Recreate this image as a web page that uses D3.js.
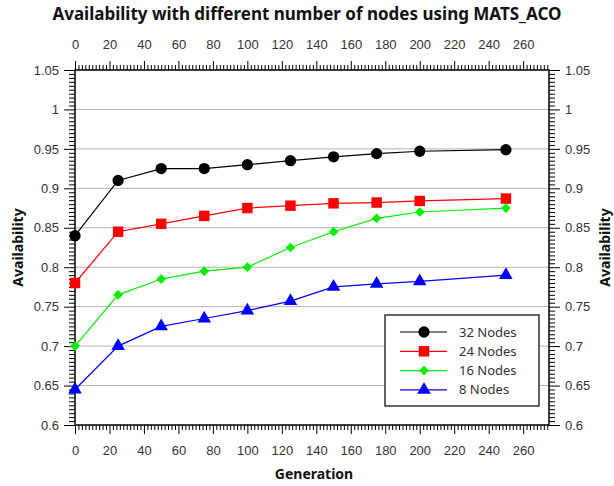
<!DOCTYPE html>
<html>
<head>
<meta charset="utf-8">
<script src="https://cdn.jsdelivr.net/npm/d3@7"></script>
<style>
  body { margin: 0; background: #fff; }
  svg { display: block; font-family: "Noto Sans", "Open Sans", sans-serif; }
</style>
</head>
<body>
<svg id="chart" width="614" height="486"></svg>
<script>
// Generations sampled
const generations = [0, 25, 50, 75, 100, 125, 150, 175, 200, 250];

// Availability per network size
const nodes32 = [0.84, 0.91, 0.925, 0.925, 0.93, 0.935, 0.94, 0.944, 0.947, 0.949];
const nodes24 = [0.78, 0.845, 0.855, 0.865, 0.875, 0.878, 0.881, 0.882, 0.884, 0.887];
const nodes16 = [0.70, 0.765, 0.785, 0.795, 0.80, 0.825, 0.845, 0.862, 0.87, 0.875];
const nodes8  = [0.645, 0.70, 0.725, 0.735, 0.745, 0.757, 0.775, 0.779, 0.782, 0.79];

const seriesNames = ["32 Nodes", "24 Nodes", "16 Nodes", "8 Nodes"];
const xTicks = [0, 20, 40, 60, 80, 100, 120, 140, 160, 180, 200, 220, 240, 260];
const yTicks = [0.6, 0.65, 0.7, 0.75, 0.8, 0.85, 0.9, 0.95, 1, 1.05];

const series = [
  { name: seriesNames[0], values: nodes32, color: "#000000", symbol: d3.symbolCircle, size: 100 },
  { name: seriesNames[1], values: nodes24, color: "#ff0000", symbol: d3.symbolSquare, size: 110 },
  { name: seriesNames[2], values: nodes16, color: "#00ee00", symbol: d3.symbolDiamond2, size: 60 },
  { name: seriesNames[3], values: nodes8,  color: "#0000ff", symbol: d3.symbolTriangle, size: 80 }
];

const svg = d3.select("#chart");
const plotL = 75, plotR = 549, plotT = 70, plotB = 425;

const x = d3.scaleLinear().domain([0, 275]).range([plotL, plotR]);
const y = d3.scaleLinear().domain([0.6, 1.05]).range([plotB, plotT]);

const tickColor = "#000";
const labelColor = "#333";

// horizontal grid
svg.append("g")
  .selectAll("line")
  .data(yTicks.filter(v => v > 0.6 && v < 1.05))
  .join("line")
  .attr("x1", plotL).attr("x2", plotR)
  .attr("y1", d => y(d)).attr("y2", d => y(d))
  .attr("stroke", "#b4b4b4").attr("stroke-width", 1);

// minor tick values
const xMinor = d3.range(0, 275, 2).filter(v => v % 20 !== 0);
const yMinor = d3.range(0, 90).map(i => +(0.6 + i * 0.005).toFixed(3))
  .filter(v => Math.round(v * 1000) % 50 !== 0);

function styleAxis(g) {
  g.select(".domain").remove();
  g.selectAll(".tick line").attr("stroke", tickColor);
  g.selectAll(".tick text").attr("fill", labelColor).style("font-size", "13px");
}

// bottom axis
const gb = svg.append("g").attr("transform", `translate(0,${plotB})`);
gb.append("g").call(d3.axisBottom(x).tickValues(xMinor).tickSize(5).tickFormat(""))
  .call(styleAxis);
gb.append("g").call(d3.axisBottom(x).tickValues(xTicks).tickSize(9).tickPadding(12).tickFormat(d3.format("d")))
  .call(styleAxis);

// top axis
const gt = svg.append("g").attr("transform", `translate(0,${plotT})`);
gt.append("g").call(d3.axisTop(x).tickValues(xMinor).tickSize(5).tickFormat(""))
  .call(styleAxis);
gt.append("g").call(d3.axisTop(x).tickValues(xTicks).tickSize(9).tickPadding(12).tickFormat(d3.format("d")))
  .call(styleAxis);

const yFmt = d => d3.format("")(+d.toFixed(2));

// left axis
const gl = svg.append("g").attr("transform", `translate(${plotL},0)`);
gl.append("g").call(d3.axisLeft(y).tickValues(yMinor).tickSize(6).tickFormat(""))
  .call(styleAxis);
gl.append("g").call(d3.axisLeft(y).tickValues(yTicks).tickSize(11).tickPadding(5).tickFormat(yFmt))
  .call(styleAxis);

// right axis
const gr = svg.append("g").attr("transform", `translate(${plotR},0)`);
gr.append("g").call(d3.axisRight(y).tickValues(yMinor).tickSize(6).tickFormat(""))
  .call(styleAxis);
gr.append("g").call(d3.axisRight(y).tickValues(yTicks).tickSize(11).tickPadding(5).tickFormat(yFmt))
  .call(styleAxis);

// frame
svg.append("rect")
  .attr("x", plotL).attr("y", plotT)
  .attr("width", plotR - plotL).attr("height", plotB - plotT)
  .attr("fill", "none").attr("stroke", "#000").attr("stroke-width", 1.5);

// series lines and markers
const line = d3.line().x((d, i) => x(generations[i])).y(d => y(d));
series.forEach(s => {
  svg.append("path")
    .datum(s.values)
    .attr("d", line)
    .attr("fill", "none")
    .attr("stroke", s.color)
    .attr("stroke-width", 1.2);
  svg.append("g")
    .selectAll("path")
    .data(s.values)
    .join("path")
    .attr("transform", (d, i) => `translate(${x(generations[i])},${y(d)})`)
    .attr("d", d3.symbol().type(s.symbol).size(s.size))
    .attr("fill", s.color);
});

// legend
const lg = svg.append("g");
lg.append("rect")
  .attr("x", 385).attr("y", 315).attr("width", 154).attr("height", 91)
  .attr("fill", "#fff").attr("stroke", "#000").attr("stroke-width", 1.2);
series.forEach((s, i) => {
  const ly = 332 + i * 19.3;
  lg.append("line").attr("x1", 400).attr("x2", 447).attr("y1", ly).attr("y2", ly)
    .attr("stroke", s.color).attr("stroke-width", 1.2);
  lg.append("path").attr("transform", `translate(424,${ly})`)
    .attr("d", d3.symbol().type(s.symbol).size(s.size)).attr("fill", s.color);
  lg.append("text").attr("x", 459).attr("y", ly).attr("dy", "0.35em")
    .style("font-size", "13px").attr("fill", labelColor).text(s.name);
});

// titles
svg.append("text").attr("x", 307).attr("y", 20).attr("text-anchor", "middle")
  .style("font-size", "17px").style("font-weight", "bold").attr("fill", "#111")
  .text("Availability with different number of nodes using MATS_ACO");
svg.append("text").attr("x", 314).attr("y", 479).attr("text-anchor", "middle")
  .style("font-size", "14px").style("font-weight", "bold").attr("fill", "#111")
  .text("Generation");
svg.append("text").attr("transform", `translate(23,${(plotT + plotB) / 2}) rotate(-90)`)
  .attr("text-anchor", "middle")
  .style("font-size", "14px").style("font-weight", "bold").attr("fill", "#111")
  .text("Availability");
svg.append("text").attr("transform", `translate(610,${(plotT + plotB) / 2}) rotate(-90)`)
  .attr("text-anchor", "middle")
  .style("font-size", "14px").style("font-weight", "bold").attr("fill", "#111")
  .text("Availability");
</script>
</body>
</html>
